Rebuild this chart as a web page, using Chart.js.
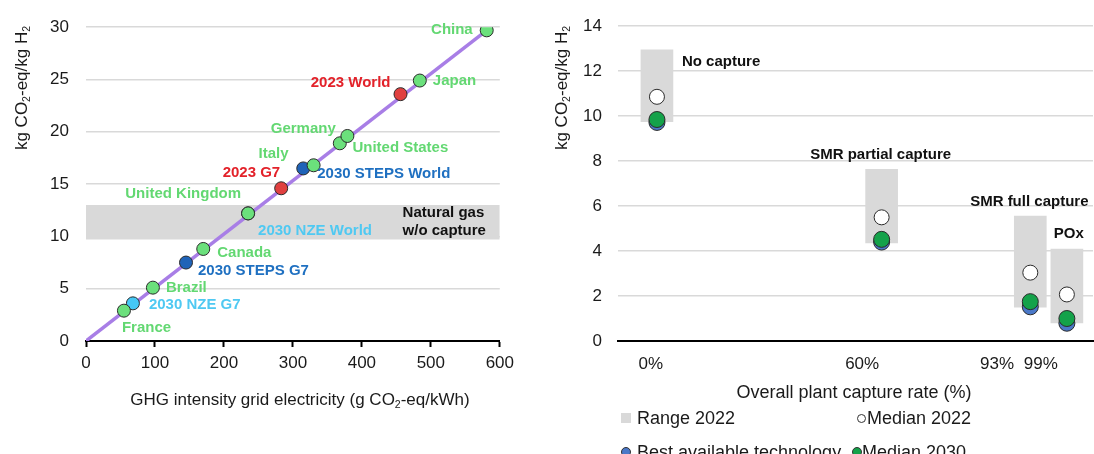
<!DOCTYPE html>
<html>
<head>
<meta charset="utf-8">
<script src="https://cdn.jsdelivr.net/npm/chart.js@4/dist/chart.umd.min.js"></script>
<style>
  body { margin: 0; background: #fff; width: 1094px; height: 454px; overflow: hidden; position: relative;
         font-family: "Liberation Sans", Arial, sans-serif; }
  canvas { position: absolute; top: 0; }
  #left { left: 0; }
  #right { left: 530px; }
  .lg { position: absolute; font-size: 18px; line-height: 24px; color: #1a1a1a; white-space: nowrap; }
  .mk { position: absolute; box-sizing: border-box; }
</style>
</head>
<body>
<canvas id="left" width="520" height="454"></canvas>
<canvas id="right" width="572" height="454"></canvas>

<div class="mk" style="left:621px;top:413px;width:10px;height:10px;background:#D9D9D9"></div>
<div class="lg" style="left:637px;top:406px">Range 2022</div>
<div class="mk" style="left:857px;top:414px;width:9px;height:9px;border:1px solid #333;border-radius:50%;background:#fff"></div>
<div class="lg" style="left:867px;top:406px">Median 2022</div>
<div class="mk" style="left:621px;top:447px;width:10px;height:10px;border:1px solid #333;border-radius:50%;background:#4A78C8"></div>
<div class="lg" style="left:637px;top:440px">Best available technology</div>
<div class="mk" style="left:852px;top:447px;width:10px;height:10px;border:1px solid #333;border-radius:50%;background:#14A24A"></div>
<div class="lg" style="left:862px;top:440px">Median 2030</div>

<script>
// ---- left chart: grid intensity vs electrolytic H2 emissions ----
const countries = ['France', 'Brazil', 'Canada', 'United Kingdom', 'Italy', 'Germany', 'United States', 'Japan', 'China'];
const countryGrid = [55, 97, 170, 235, 330, 368, 379, 484, 581];
const countryH2 = [2.9, 5.1, 8.8, 12.2, 16.8, 18.9, 19.6, 24.9, 29.7];

const actual2023 = ['2023 G7', '2023 World'];
const actual2023Grid = [283, 456];
const actual2023H2 = [14.6, 23.6];

const steps2030 = ['2030 STEPS G7', '2030 STEPS World'];
const steps2030Grid = [145, 315];
const steps2030H2 = [7.5, 16.5];

const nze2030 = ['2030 NZE G7', '2030 NZE World'];
const nze2030Grid = [68, 235];
const nze2030H2 = [3.6, 12.2];

const lineGrid = [0, 581];
const lineH2 = [0, 29.7];
const gasBand = [9.7, 13];          // natural gas w/o capture range
const gasLabel = ['Natural gas', 'w/o capture'];
const gridTicks = [0, 100, 200, 300, 400, 500, 600];
const leftYTicks = [0, 5, 10, 15, 20, 25, 30];

// ---- right chart: H2 from natural gas by capture rate ----
const routes = ['No capture', 'SMR partial capture', 'SMR full capture', 'POx'];
const captureRates = ['0%', '60%', '93%', '99%'];
const rangeLow = [9.75, 4.36, 1.51, 0.8];
const rangeHigh = [12.95, 7.64, 5.56, 4.09];
const median2022 = [10.86, 5.5, 3.04, 2.07];
const median2030 = [9.85, 4.52, 1.75, 1.0];
const bestTech = [9.72, 4.4, 1.52, 0.79];
const rightYTicks = [0, 2, 4, 6, 8, 10, 12, 14];

// layout only: where routes and their tick labels sit on the 0-100 slot axis
const routeSlot = [8.2, 55.5, 86.8, 94.5];
const tickSlot = [6.9, 51.4, 79.8, 89.0];

const family = '"Liberation Sans", Arial, sans-serif';
const yTitle = [{ t: 'kg CO' }, { t: '2', sub: true }, { t: '-eq/kg H' }, { t: '2', sub: true }];
const xTitleLeft = [{ t: 'GHG intensity grid electricity (g CO' }, { t: '2', sub: true }, { t: '-eq/kWh)' }];

// label placement [align, dx, dy] relative to the marker
const labelPlace = {
  'China': ['right', -14, 0], 'Japan': ['left', 13, 0], '2023 World': ['right', -10, -11],
  'United States': ['left', 5, 12], 'Germany': ['right', -4, -14], 'Italy': ['center', -40, -11],
  '2030 STEPS World': ['left', 14, 5], '2023 G7': ['right', -1, -15], 'United Kingdom': ['right', -7, -20],
  '2030 NZE World': ['left', 10, 17], 'Canada': ['left', 14, 4], '2030 STEPS G7': ['left', 12, 8],
  'Brazil': ['left', 13, 0], '2030 NZE G7': ['left', 16, 2], 'France': ['left', -2, 17]
};
const routePlace = [['left', 25, 12], ['center', -1, -14], ['center', -1, -14], ['center', 2, -15]];

function richText(ctx, parts, cx, cy, size, angle) {
  ctx.save();
  ctx.translate(cx, cy);
  ctx.rotate(angle);
  ctx.textBaseline = 'middle';
  ctx.textAlign = 'left';
  ctx.fillStyle = '#1a1a1a';
  let w = 0;
  parts.forEach(p => { ctx.font = (p.sub ? size * 0.62 : size) + 'px ' + family; w += ctx.measureText(p.t).width; });
  let x = -w / 2;
  parts.forEach(p => {
    ctx.font = (p.sub ? size * 0.62 : size) + 'px ' + family;
    ctx.fillText(p.t, x, p.sub ? size * 0.32 : 0);
    x += ctx.measureText(p.t).width;
  });
  ctx.restore();
}

const pts = (xs, ys) => xs.map((x, i) => ({ x, y: ys[i] }));
const gridColor = c => c.tick.value === 0 ? 'rgba(0,0,0,0)' : '#D9D9D9';

const groups = [
  { names: countries, grid: countryGrid, h2: countryH2, fill: '#6BE07C', text: '#63D872' },
  { names: actual2023, grid: actual2023Grid, h2: actual2023H2, fill: '#E04040', text: '#E3222A' },
  { names: steps2030, grid: steps2030Grid, h2: steps2030H2, fill: '#1F63B8', text: '#1F70C1' },
  { names: nze2030, grid: nze2030Grid, h2: nze2030H2, fill: '#45C8F5', text: '#4FC9F2' }
];

const leftText = {
  id: 'leftText',
  afterDatasetsDraw(chart) {
    const { ctx, scales: { x, y } } = chart;
    ctx.save();
    ctx.font = 'bold 15px ' + family;
    ctx.textBaseline = 'middle';
    groups.forEach(g => g.names.forEach((n, i) => {
      const [align, dx, dy] = labelPlace[n];
      ctx.fillStyle = g.text;
      ctx.textAlign = align;
      ctx.fillText(n, x.getPixelForValue(g.grid[i]) + dx, y.getPixelForValue(g.h2[i]) + dy);
    }));
    ctx.fillStyle = '#111';
    ctx.textAlign = 'left';
    const mid = (y.getPixelForValue(gasBand[0]) + y.getPixelForValue(gasBand[1])) / 2;
    ctx.fillText(gasLabel[0], x.getPixelForValue(459), mid - 9);
    ctx.fillText(gasLabel[1], x.getPixelForValue(459), mid + 9);
    ctx.restore();
  },
  afterDraw(chart) {
    richText(chart.ctx, yTitle, 22, 88, 17, -Math.PI / 2);
    richText(chart.ctx, xTitleLeft, 300, 400, 17, 0);
  }
};

new Chart(document.getElementById('left'), {
  type: 'scatter',
  data: {
    datasets: [
      { type: 'line', data: pts([0, 600], [gasBand[1], gasBand[1]]), fill: { value: gasBand[0] },
        backgroundColor: '#D9D9D9', borderWidth: 0, pointRadius: 0, order: 20 },
      { type: 'line', data: pts(lineGrid, lineH2), borderColor: '#A87EE6', borderWidth: 3.5,
        pointRadius: 0, fill: false, order: 10 },
      ...groups.slice().reverse().map((g, k) => ({
        data: pts(g.grid, g.h2), backgroundColor: g.fill, borderColor: '#2b2b2b', borderWidth: 1,
        pointRadius: 6.5, order: 6 - k
      }))
    ]
  },
  options: {
    responsive: false, animation: false, devicePixelRatio: 1,
    layout: { padding: { top: 24, right: 20, left: 0, bottom: 0 } },
    plugins: { legend: { display: false }, tooltip: { enabled: false } },
    scales: {
      x: {
        min: 0, max: 600,
        afterBuildTicks: s => { s.ticks = gridTicks.map(v => ({ value: v })); },
        ticks: { color: '#1a1a1a', padding: 6, font: { size: 17, family } },
        grid: { drawOnChartArea: false, drawTicks: true, tickLength: 6, tickColor: '#000', tickWidth: 2 },
        border: { color: '#000', width: 2 },
        afterFit: s => { s.height = 113; }
      },
      y: {
        min: 0, max: 30,
        afterBuildTicks: s => { s.ticks = leftYTicks.map(v => ({ value: v })); },
        ticks: { color: '#1a1a1a', padding: 17, font: { size: 17, family } },
        grid: { color: gridColor, lineWidth: 1.5, drawTicks: false },
        border: { display: false },
        afterFit: s => { s.width = 86; }
      }
    }
  },
  plugins: [leftText]
});

const rightText = {
  id: 'rightText',
  afterDatasetsDraw(chart) {
    const { ctx, scales: { x, y } } = chart;
    ctx.save();
    ctx.font = 'bold 15px ' + family;
    ctx.textBaseline = 'middle';
    ctx.fillStyle = '#111';
    routes.forEach((r, i) => {
      const [align, dx, dy] = routePlace[i];
      ctx.textAlign = align;
      ctx.fillText(r, x.getPixelForValue(routeSlot[i]) + dx, y.getPixelForValue(rangeHigh[i]) + dy);
    });
    ctx.restore();
  },
  afterDraw(chart) {
    richText(chart.ctx, yTitle, 32, 88, 17, -Math.PI / 2);
    richText(chart.ctx, [{ t: 'Overall plant capture rate (%)' }], 324, 393, 18, 0);
  }
};

new Chart(document.getElementById('right'), {
  type: 'scatter',
  data: {
    datasets: [
      { type: 'bar', data: routeSlot.map((x, i) => ({ x, y: [rangeLow[i], rangeHigh[i]] })),
        backgroundColor: '#D9D9D9', barThickness: 32, order: 10 },
      { data: pts(routeSlot, bestTech), backgroundColor: '#4A78C8', borderColor: '#2b2b2b',
        borderWidth: 1, pointRadius: 8, order: 3 },
      { data: pts(routeSlot, median2030), backgroundColor: '#14A24A', borderColor: '#2b2b2b',
        borderWidth: 1, pointRadius: 8, order: 2 },
      { data: pts(routeSlot, median2022), backgroundColor: '#fff', borderColor: '#2b2b2b',
        borderWidth: 1, pointRadius: 7.5, order: 1 }
    ]
  },
  options: {
    responsive: false, animation: false, devicePixelRatio: 1,
    layout: { padding: { top: 26, right: 0, left: 0, bottom: 0 } },
    plugins: { legend: { display: false }, tooltip: { enabled: false } },
    scales: {
      x: {
        type: 'linear', min: 0, max: 100, offset: false,
        afterBuildTicks: s => { s.ticks = tickSlot.map(v => ({ value: v })); },
        ticks: { color: '#1a1a1a', padding: 13, autoSkip: false, maxRotation: 0,
                 font: { size: 17, family }, callback: (v, i) => captureRates[i] },
        grid: { display: false, drawTicks: false, offset: false },
        border: { color: '#000', width: 2 },
        afterFit: s => { s.height = 113; }
      },
      y: {
        min: 0, max: 14,
        afterBuildTicks: s => { s.ticks = rightYTicks.map(v => ({ value: v })); },
        ticks: { color: '#1a1a1a', padding: 16, font: { size: 17, family } },
        grid: { color: gridColor, lineWidth: 1.5, drawTicks: false },
        border: { display: false },
        afterFit: s => { s.width = 88; }
      }
    }
  },
  plugins: [rightText]
});
</script>
</body>
</html>
